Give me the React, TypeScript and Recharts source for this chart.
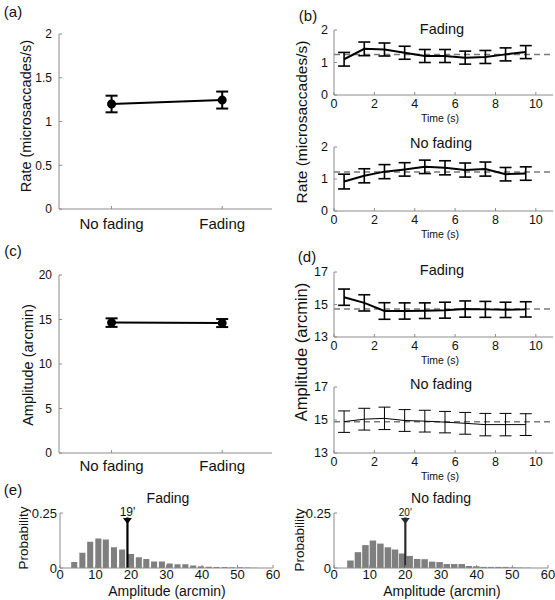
import React from "react";
import {
  ComposedChart, Line, Bar, XAxis, YAxis, ErrorBar, ReferenceLine, ReferenceDot,
} from "recharts";

const PAGE_W = 555;
const PAGE_H = 600;
const FONT = '"Liberation Sans", Arial, Helvetica, sans-serif';
const AXIS = "#8c8c8c";
const INK = "#111";

// (a) + (c): per-condition means, +/- sem
const conditions = ["No fading", "Fading"];
const conditionX = [1, 3];
const rateMean = [1.2, 1.245];
const rateSem = [0.095, 0.097];
const ampMean = [14.65, 14.6];
const ampSem = [0.48, 0.45];

// (b) + (d): time course in 1 s bins
const timeBins = [0.5, 1.5, 2.5, 3.5, 4.5, 5.5, 6.5, 7.5, 8.5, 9.5];
const timeTicks = [0, 2, 4, 6, 8, 10];
const rateFading = [1.1, 1.42, 1.4, 1.3, 1.2, 1.2, 1.15, 1.17, 1.25, 1.32];
const rateFadingSem = [0.21, 0.21, 0.2, 0.2, 0.2, 0.2, 0.2, 0.2, 0.2, 0.2];
const rateNoFading = [0.92, 1.1, 1.23, 1.3, 1.38, 1.35, 1.28, 1.31, 1.15, 1.17];
const rateNoFadingSem = [0.23, 0.22, 0.22, 0.21, 0.21, 0.22, 0.22, 0.22, 0.21, 0.21];
const ampFading = [15.45, 15.1, 14.6, 14.6, 14.62, 14.65, 14.72, 14.7, 14.67, 14.7];
const ampFadingSem = [0.5, 0.5, 0.51, 0.5, 0.48, 0.49, 0.5, 0.49, 0.47, 0.47];
const ampNoFading = [14.9, 15.05, 15.1, 14.97, 14.93, 14.87, 14.8, 14.72, 14.72, 14.72];
const ampNoFadingSem = [0.65, 0.66, 0.68, 0.66, 0.66, 0.65, 0.66, 0.68, 0.68, 0.66];
const rateFadingMean = 1.25;
const rateNoFadingMean = 1.22;
const ampFadingMean = 14.72;
const ampNoFadingMean = 14.9;

// (e): amplitude histograms
const histTicks = [0, 10, 20, 30, 40, 50, 60];
const binsFading = [4.1, 6.4, 8.6, 10.9, 13.0, 15.3, 17.6, 20.1, 22.3, 24.4, 26.6, 28.8, 31.0, 33.2, 35.4, 37.6, 39.8, 42.0, 44.2, 46.5, 48.6, 50.8, 52.9, 54.8];
const probFading = [0.027, 0.069, 0.119, 0.134, 0.13, 0.094, 0.084, 0.064, 0.049, 0.041, 0.029, 0.029, 0.02, 0.017, 0.017, 0.011, 0.008, 0.006, 0.005, 0.005, 0.003, 0.003, 0.002, 0.0015];
const binsNoFading = [4.7, 6.8, 8.9, 11.0, 13.1, 15.2, 17.2, 19.2, 21.3, 23.4, 25.5, 27.6, 29.7, 31.7, 33.8, 35.9, 37.9, 40.0, 42.0, 44.1, 46.2, 48.2, 50.3, 52.3, 54.4];
const probNoFading = [0.034, 0.072, 0.104, 0.125, 0.111, 0.094, 0.084, 0.066, 0.055, 0.041, 0.04, 0.029, 0.027, 0.018, 0.018, 0.018, 0.009, 0.008, 0.005, 0.005, 0.005, 0.005, 0.003, 0.002, 0.0015];
const medianFading = 19;
const medianNoFading = 20;

type Box = { left: number; right: number; top: number; bottom: number };

// axes get 1px of room; the margin around it puts the plot area on the box
const AX = 1;
const marginOf = (b: Box) => ({
  left: b.left - AX, top: b.top, right: PAGE_W - b.right, bottom: PAGE_H - b.bottom - AX,
});

const Layer = ({ children }: { children: React.ReactNode }) => (
  <div style={{ position: "absolute", left: 0, top: 0 }}>{children}</div>
);

const tickStyle = (size: number) => ({ fill: INK, fontSize: size, fontFamily: FONT });

function ConditionPlot({ box, mean, sem, domain, ticks, labelGap }: {
  box: Box; mean: number[]; sem: number[]; domain: number[]; ticks: number[]; labelGap: number;
}) {
  const data = conditions.map((c, i) => ({ x: conditionX[i], name: c, v: mean[i], e: sem[i] }));
  return (
    <Layer>
      <ComposedChart width={PAGE_W} height={PAGE_H} data={data} margin={marginOf(box)}>
        <XAxis dataKey="x" type="number" domain={[0.05, 3.9]} ticks={conditionX} height={AX}
          tickFormatter={(v) => conditions[conditionX.indexOf(v)]}
          axisLine={{ stroke: AXIS }} tickLine={{ stroke: AXIS }} tickSize={-3} tickMargin={labelGap}
          tick={tickStyle(15)} interval={0} />
        <YAxis type="number" domain={domain} ticks={ticks} width={AX} allowDataOverflow
          axisLine={{ stroke: AXIS }} tickLine={{ stroke: AXIS }} tickSize={-3} tickMargin={10}
          tick={tickStyle(12)} interval={0} />
        <Line dataKey="v" stroke="#000" strokeWidth={2} isAnimationActive={false}
          dot={{ r: 3.5, fill: "#000", stroke: "#000" }}>
          <ErrorBar dataKey="e" direction="y" width={6} stroke="#000" strokeWidth={2} />
        </Line>
      </ComposedChart>
    </Layer>
  );
}

function TimePlot({ box, values, sem, mean, domain, ticks, thin }: {
  box: Box; values: number[]; sem: number[]; mean: number; domain: number[]; ticks: number[]; thin?: boolean;
}) {
  const data = timeBins.map((t, i) => ({ t, v: values[i], e: sem[i] }));
  return (
    <Layer>
      <ComposedChart width={PAGE_W} height={PAGE_H} data={data} margin={marginOf(box)}>
        <XAxis dataKey="t" type="number" domain={[0, 10.85]} ticks={timeTicks} height={AX}
          axisLine={{ stroke: AXIS }} tickLine={{ stroke: AXIS }} tickSize={-3} tickMargin={7}
          tick={tickStyle(12.5)} interval={0} />
        <YAxis type="number" domain={domain} ticks={ticks} width={AX} allowDataOverflow
          axisLine={{ stroke: AXIS }} tickLine={{ stroke: AXIS }} tickSize={-3} tickMargin={9}
          tick={tickStyle(12.5)} interval={0} />
        <ReferenceLine y={mean} stroke="#7a7a7a" strokeWidth={1.5} strokeDasharray="6 4" />
        <Line dataKey="v" stroke="#000" strokeWidth={thin ? 1 : 2} dot={false} isAnimationActive={false}>
          <ErrorBar dataKey="e" direction="y" width={6} stroke="#000" strokeWidth={thin ? 1 : 1.6} />
        </Line>
      </ComposedChart>
    </Layer>
  );
}

function HistPlot({ box, bins, probs, median, barSize, markerColor, markerFont }: {
  box: Box; bins: number[]; probs: number[]; median: number; barSize: number; markerColor: string; markerFont: number;
}) {
  const data = bins.map((x, i) => ({ x, p: probs[i] }));
  const marker = (p: any) => (
    <g>
      <text x={p.cx} y={p.cy + 3} textAnchor="middle" fontSize={markerFont} fontFamily={FONT} fill={INK}>
        {`${median}'`}
      </text>
      <path d={`M${p.cx - 4.5},${p.cy + 5}L${p.cx + 4.5},${p.cy + 5}L${p.cx},${p.cy + 11}Z`} fill={markerColor} />
    </g>
  );
  return (
    <Layer>
      <ComposedChart width={PAGE_W} height={PAGE_H} data={data} margin={marginOf(box)}>
        <XAxis dataKey="x" type="number" domain={[0, 60]} ticks={histTicks} height={AX}
          axisLine={{ stroke: AXIS }} tickLine={{ stroke: AXIS }} tickSize={-3} tickMargin={5}
          tick={tickStyle(13)} interval={0} />
        <YAxis type="number" domain={[0, 0.25]} ticks={[0, 0.25]} width={AX} allowDataOverflow
          axisLine={{ stroke: AXIS }} tickLine={{ stroke: AXIS }} tickSize={-3} tickMargin={6}
          tick={tickStyle(13)} interval={0} />
        <Bar dataKey="p" fill="#7f7f7f" barSize={barSize} isAnimationActive={false} />
        <ReferenceLine segment={[{ x: median, y: 0 }, { x: median, y: 0.23 }]}
          stroke={markerColor} strokeWidth={2.2} />
        <ReferenceDot x={median} y={0.25} ifOverflow="visible" shape={marker} />
      </ComposedChart>
    </Layer>
  );
}

const T = ({ x, y, size, children, rotate }: { x: number; y: number; size: number; children: string; rotate?: boolean }) => (
  <text x={x} y={y} fontSize={size} fontFamily={FONT} fill={INK} textAnchor="middle"
    dominantBaseline="central" transform={rotate ? `rotate(-90 ${x} ${y})` : undefined}>
    {children}
  </text>
);

export default function App() {
  return (
    <div style={{ position: "absolute", left: 0, top: 0, width: PAGE_W, height: PAGE_H, background: "#fff", overflow: "hidden" }}>
      <ConditionPlot box={{ left: 59, right: 272, top: 34, bottom: 209 }} mean={rateMean} sem={rateSem}
        domain={[0, 2]} ticks={[0, 0.5, 1, 1.5, 2]} labelGap={12} />
      <ConditionPlot box={{ left: 59, right: 272, top: 275, bottom: 453 }} mean={ampMean} sem={ampSem}
        domain={[0, 20]} ticks={[0, 5, 10, 15, 20]} labelGap={10} />

      <TimePlot box={{ left: 334, right: 553, top: 30, bottom: 95 }} values={rateFading} sem={rateFadingSem}
        mean={rateFadingMean} domain={[0, 2]} ticks={[0, 1, 2]} />
      <TimePlot box={{ left: 334, right: 553, top: 147, bottom: 211 }} values={rateNoFading} sem={rateNoFadingSem}
        mean={rateNoFadingMean} domain={[0, 2]} ticks={[0, 1, 2]} />
      <TimePlot box={{ left: 334, right: 553, top: 272, bottom: 337 }} values={ampFading} sem={ampFadingSem}
        mean={ampFadingMean} domain={[13, 17]} ticks={[13, 15, 17]} />
      <TimePlot box={{ left: 334, right: 553, top: 387, bottom: 453 }} values={ampNoFading} sem={ampNoFadingSem}
        mean={ampNoFadingMean} domain={[13, 17]} ticks={[13, 15, 17]} thin />

      <HistPlot box={{ left: 60, right: 273, top: 513, bottom: 568 }} bins={binsFading} probs={probFading}
        median={medianFading} barSize={7} markerColor="#000" markerFont={12} />
      <HistPlot box={{ left: 334, right: 548, top: 513, bottom: 568 }} bins={binsNoFading} probs={probNoFading}
        median={medianNoFading} barSize={6.5} markerColor="#2b2b2b" markerFont={10} />

      <svg width={PAGE_W} height={PAGE_H} style={{ position: "absolute", left: 0, top: 0, pointerEvents: "none" }}>
        <T x={13} y={11} size={15}>(a)</T>
        <T x={308} y={15} size={15}>(b)</T>
        <T x={13} y={250} size={15}>(c)</T>
        <T x={307} y={256} size={15}>(d)</T>
        <T x={13} y={489} size={15}>(e)</T>

        <T x={26} y={116} size={14.5} rotate>Rate (microsaccades/s)</T>
        <T x={28} y={365} size={14.5} rotate>Amplitude (arcmin)</T>
        <T x={301} y={122} size={15.5} rotate>Rate (microsaccades/s)</T>
        <T x={301} y={352} size={16.5} rotate>Amplitude (arcmin)</T>
        <T x={23} y={538} size={13.5} rotate>Probability</T>
        <T x={299} y={540} size={13.5} rotate>Probability</T>

        <T x={442} y={29} size={14.5}>Fading</T>
        <T x={441} y={143} size={14.5}>No fading</T>
        <T x={442} y={270} size={14.5}>Fading</T>
        <T x={441} y={384} size={14.5}>No fading</T>
        <T x={168} y={498} size={14}>Fading</T>
        <T x={441} y={498} size={14}>No fading</T>

        <T x={440} y={118} size={10.5}>Time (s)</T>
        <T x={440} y={234} size={10.5}>Time (s)</T>
        <T x={440} y={360} size={10.5}>Time (s)</T>
        <T x={440} y={476} size={10.5}>Time (s)</T>

        <T x={167} y={591} size={14}>Amplitude (arcmin)</T>
        <T x={442} y={591} size={14}>Amplitude (arcmin)</T>
      </svg>
    </div>
  );
}
